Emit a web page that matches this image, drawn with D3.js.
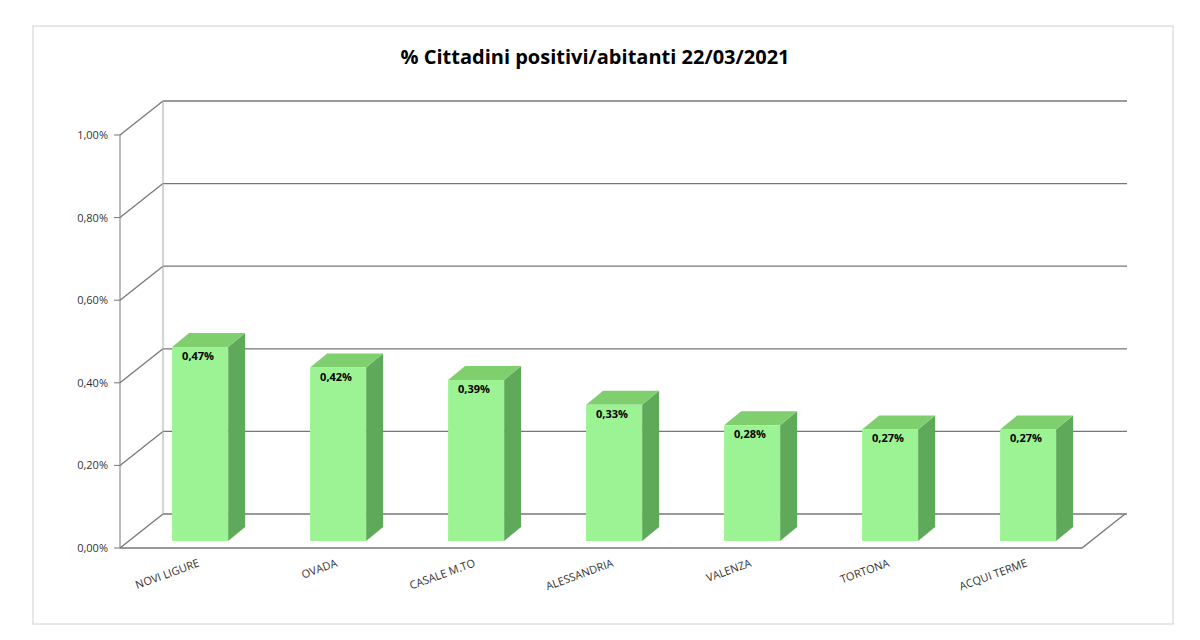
<!DOCTYPE html>
<html><head><meta charset="utf-8">
<script src="https://cdn.jsdelivr.net/npm/d3@7"></script>
<style>body{margin:0;background:#fff}svg{display:block}</style></head>
<body><svg id="c" width="1200" height="640"></svg>
<script>
const categories=["NOVI LIGURE","OVADA","CASALE M.TO","ALESSANDRIA","VALENZA","TORTONA","ACQUI TERME"];
const values=[0.0047,0.0042,0.0039,0.0033,0.0028,0.0027,0.0027];
const valueLabels=["0,47%","0,42%","0,39%","0,33%","0,28%","0,27%","0,27%"];
const ticks=[0,0.002,0.004,0.006,0.008,0.01];
const tickLabels=["0,00%","0,20%","0,40%","0,60%","0,80%","1,00%"];

const svg=d3.select("#c");
const font="'Open Sans',Arial,sans-serif";
svg.append("rect").attr("x",33).attr("y",26).attr("width",1140).attr("height",598).attr("fill","#fff").attr("stroke","#d0d0d0");
svg.append("text").attr("x",595).attr("y",64).attr("text-anchor","middle").attr("font-family",font).attr("font-weight","bold").attr("font-size",20).text("% Cittadini positivi/abitanti 22/03/2021");

const DX=43,DY=-34;
const yF=d3.scaleLinear().domain([0,0.01]).range([548,135]);
const x=d3.scaleBand().domain(categories).range([122.7,1089.5]).paddingInner(0.594).paddingOuter(0.3);
const g=svg.append("g");
ticks.forEach((t,i)=>{
  const yf=yF(t), yb=yf+DY;
  g.append("line").attr("x1",120+DX).attr("x2",1127).attr("y1",yb).attr("y2",yb).attr("stroke","#777").attr("stroke-width",1.3);
  g.append("line").attr("x1",120).attr("x2",120+DX).attr("y1",yf).attr("y2",yb).attr("stroke","#777").attr("stroke-width",1.3);
  g.append("line").attr("x1",114).attr("x2",120).attr("y1",yf).attr("y2",yf).attr("stroke","#777");
  g.append("text").attr("x",108).attr("y",yf+4).attr("text-anchor","end").attr("font-family",font).attr("font-size",11).attr("fill","#333").text(tickLabels[i]);
});
g.append("line").attr("x1",120).attr("x2",120).attr("y1",yF(0)).attr("y2",yF(0.01)).attr("stroke","#777");
g.append("line").attr("x1",163).attr("x2",163).attr("y1",yF(0)+DY).attr("y2",yF(0.01)+DY).attr("stroke","#aaa");
g.append("path").attr("d",`M120,${yF(0)}L1082,${yF(0)}L1125,${yF(0)+DY}`).attr("fill","none").attr("stroke","#777").attr("stroke-width",1.3);

const bx=8,by=-7,sd=17,sh=-14;
const yB=v=>yF(v)+by;
categories.forEach((c,i)=>{
  const x0=x(c)+bx, w=x.bandwidth(), v=values[i], yt=yB(v), y0=yB(0);
  g.append("path").attr("d",`M${x0+w},${yt}L${x0+w+sd},${yt+sh}L${x0+w+sd},${y0+sh}L${x0+w},${y0}Z`).attr("fill","#5fa95a");
  g.append("path").attr("d",`M${x0},${yt}L${x0+sd},${yt+sh}L${x0+w+sd},${yt+sh}L${x0+w},${yt}Z`).attr("fill","#7fcf6f");
  g.append("rect").attr("x",x0).attr("y",yt).attr("width",w).attr("height",y0-yt).attr("fill","#9cf393");
  g.append("text").attr("x",x0+10).attr("y",yt+13).attr("font-family",font).attr("font-weight","bold").attr("font-size",11).text(valueLabels[i]);
  const cx=x(c)+w/2+8;
  g.append("text").attr("transform",`translate(${cx},${566}) rotate(-20)`).attr("text-anchor","end").attr("font-family",font).attr("font-size",11).attr("fill","#333").text(c);
});
</script></body></html>
